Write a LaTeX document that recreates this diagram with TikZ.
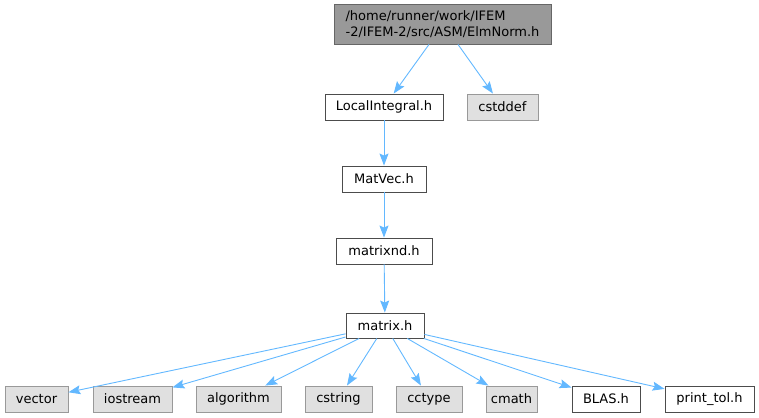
\documentclass[tikz,border=0pt]{standalone}
\usepackage{fontspec}
\setmainfont{DejaVu Sans}
\usetikzlibrary{arrows.meta, positioning}

\definecolor{edgeblue}{HTML}{63B8FF}
\definecolor{sysfill}{HTML}{E0E0E0}
\definecolor{sysline}{HTML}{999999}
\definecolor{rootfill}{HTML}{999999}
\definecolor{rootline}{HTML}{666666}

\begin{document}
\begin{tikzpicture}[x=1pt, y=-1pt,
    file/.style={draw=black!70, fill=white, line width=0.9pt, minimum height=26pt,
                 inner sep=0pt, font=\fontsize{13}{15.5}\selectfont},
    sys/.style={file, draw=sysline, fill=sysfill},
    root/.style={file, draw=rootline, fill=rootfill, minimum height=40pt, align=left},
    dep/.style={draw=edgeblue, line width=0.9pt, -{Stealth[length=12pt, width=9pt, inset=2pt]}}]
    \useasboundingbox (0,0) rectangle (759,417);

    \node[root, minimum width=217pt] (ElmNorm) at (442.5,24)
        {/home/runner/work/IFEM\\-2/IFEM-2/src/ASM/ElmNorm.h};
    \node[file, minimum width=118pt] (LocalIntegral) at (384,107) {LocalIntegral.h};
    \node[sys, minimum width=71pt] (cstddef) at (502.5,107) {cstddef};
    \node[file, minimum width=84pt] (MatVec) at (384,179) {MatVec.h};
    \node[file, minimum width=96pt] (matrixnd) at (384,251) {matrixnd.h};
    \node[file, minimum width=78pt, minimum height=25pt] (matrix) at (385,325.5) {matrix.h};

    \node[sys, minimum width=63pt] (vector) at (36.5,399) {vector};
    \node[sys, minimum width=79pt] (iostream) at (132.5,399) {iostream};
    \node[sys, minimum width=85pt] (algorithm) at (238.5,399) {algorithm};
    \node[sys, minimum width=67pt] (cstring) at (338.5,399) {cstring};
    \node[sys, minimum width=66pt] (cctype) at (429,399) {cctype};
    \node[sys, minimum width=51pt] (cmath) at (511.5,399) {cmath};
    \node[file, minimum width=68pt] (BLAS) at (606,399) {BLAS.h};
    \node[file, minimum width=89pt] (printtol) at (709.5,399) {print\_tol.h};

    \draw[dep] ([xshift=-13.5pt]ElmNorm.south) -- (LocalIntegral);
    \draw[dep] ([xshift=15.5pt]ElmNorm.south) -- (cstddef);
    \draw[dep] (LocalIntegral) -- (MatVec);
    \draw[dep] (MatVec) -- (matrixnd);
    \draw[dep] (matrixnd) -- (matrix);
    \foreach \dst in {vector, iostream, algorithm, cstring, cctype, cmath, BLAS, printtol}
        \draw[dep] (matrix) -- (\dst);
\end{tikzpicture}
\end{document}
